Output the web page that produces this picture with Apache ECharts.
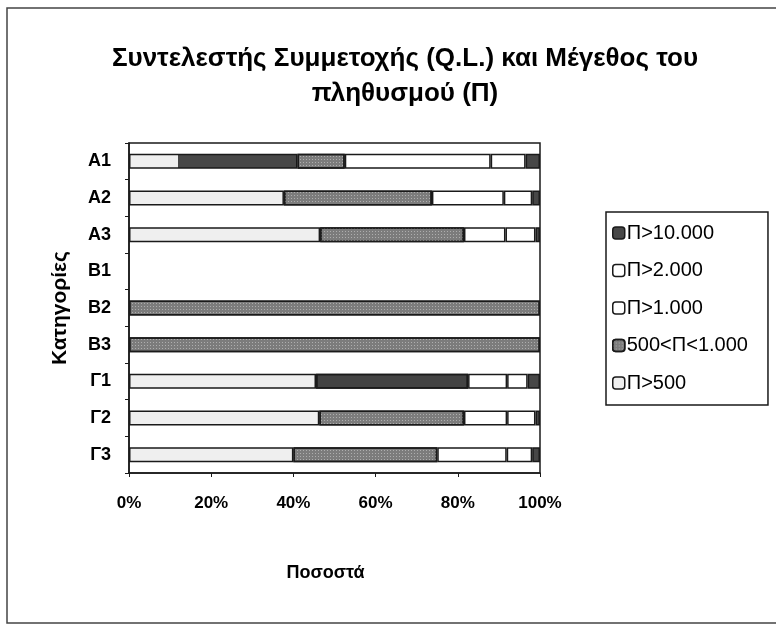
<!DOCTYPE html>
<html>
<head>
<meta charset="utf-8">
<script src="https://cdn.jsdelivr.net/npm/echarts@6/dist/echarts.min.js"></script>
<style>
  html, body { margin: 0; padding: 0; background: #fff; }
  #chart { width: 776px; height: 626px; }
</style>
</head>
<body>
<div id="chart"></div>
<script>
const categories = ['Α1', 'Α2', 'Α3', 'Β1', 'Β2', 'Β3', 'Γ1', 'Γ2', 'Γ3'];
const xTicks = [0, 20, 40, 60, 80, 100];

// percentages per category, left to right in the stack
const p500 = [41, 37.7, 46.5, null, null, null, 45.5, 46.3, 40];
const p500to1000 = [11.5, 36, 35, null, 100, 100, 37, 35.2, 35];
const p1000 = [35.5, 17.5, 10.1, null, null, null, 9.5, 10.5, 16.9];
const p2000 = [8.5, 6.9, 7.3, null, null, null, 5, 6.9, 6.2];
const p10000 = [3.5, 1.9, 1.1, null, null, null, 3, 1.1, 1.9];

const legendOrder = ['Π>10.000', 'Π>2.000', 'Π>1.000', '500<Π<1.000', 'Π>500'];

const font = 'Liberation Sans, Arial, sans-serif';
const border = '#1a1a1a';

const chart = echarts.init(document.getElementById('chart'));

function bar(name, data, color, extra) {
  return Object.assign({
    name: name,
    type: 'bar',
    stack: 'total',
    barWidth: 15,
    data: data,
    itemStyle: { color: color, borderColor: border, borderWidth: 1.5 }
  }, extra || {});
}

// A1 has a dark block inside the first segment, Γ1 a dark middle one
const p500Data = p500.map((v, i) => i === 0 ? {
  value: v,
  itemStyle: {
    color: new echarts.graphic.LinearGradient(0, 0, 1, 0, [
      { offset: 0, color: '#efefef' },
      { offset: 0.29, color: '#efefef' },
      { offset: 0.29, color: '#474747' },
      { offset: 1, color: '#474747' }
    ])
  }
} : v);
const p500to1000Data = p500to1000.map((v, i) => i === 6 ? {
  value: v, itemStyle: { color: '#434343', decal: { symbol: 'none' } }
} : v);

const dots = {
  symbol: 'rect',
  symbolSize: 1,
  color: 'rgba(215,215,215,0.55)',
  dashArrayX: [1, 2],
  dashArrayY: [1, 2]
};

const option = {
  animation: false,
  backgroundColor: '#fff',
  textStyle: { fontFamily: font, color: '#000' },
  title: {
    text: 'Συντελεστής Συμμετοχής (Q.L.) και Μέγεθος του\nπληθυσμού (Π)',
    left: 400,
    top: 36,
    textAlign: 'center',
    textStyle: { fontFamily: font, fontSize: 26, fontWeight: 'bold', lineHeight: 35, color: '#000' }
  },
  legend: {
    orient: 'vertical',
    left: 606,
    top: 212,
    padding: [11, 20, 12, 6],
    itemGap: 17.5,
    itemWidth: 12,
    itemHeight: 12,
    borderColor: '#1a1a1a',
    borderWidth: 1.5,
    data: legendOrder,
    textStyle: { fontFamily: font, fontSize: 20, color: '#000', padding: [0, 0, 0, -3] },
    itemStyle: { borderColor: '#1a1a1a', borderWidth: 1.5 }
  },
  grid: {
    left: 129,
    right: 236,
    top: 143,
    bottom: 153,
    show: true,
    borderColor: '#1a1a1a',
    borderWidth: 1.5
  },
  xAxis: {
    type: 'value',
    min: 0,
    max: 100,
    interval: 20,
    name: 'Ποσοστά',
    nameLocation: 'middle',
    nameGap: 91,
    nameTextStyle: { fontFamily: font, fontSize: 18, fontWeight: 'bold', color: '#000', padding: [0, 18, 0, 0] },
    axisLine: { show: true, lineStyle: { color: '#1a1a1a', width: 1.5 } },
    axisTick: { show: true, length: 4, lineStyle: { color: '#1a1a1a' } },
    splitLine: { show: false },
    axisLabel: {
      margin: 22,
      fontSize: 17,
      fontWeight: 'bold',
      color: '#000',
      formatter: v => xTicks.indexOf(v) >= 0 ? v + '%' : ''
    }
  },
  yAxis: {
    type: 'category',
    inverse: true,
    data: categories,
    name: 'Κατηγορίες',
    nameLocation: 'middle',
    nameGap: 58,
    nameRotate: 90,
    nameTextStyle: { fontFamily: font, fontSize: 21, fontWeight: 'bold', color: '#000' },
    axisLine: { show: true, lineStyle: { color: '#1a1a1a', width: 1.5 } },
    axisTick: { show: true, length: 4, lineStyle: { color: '#1a1a1a' } },
    axisLabel: { margin: 18, fontSize: 18, fontWeight: 'bold', color: '#000' }
  },
  graphic: [{
    type: 'rect',
    shape: { x: 7, y: 8, width: 800, height: 615 },
    style: { fill: 'none', stroke: '#444', lineWidth: 1.5 },
    silent: true
  }],
  series: [
    bar('Π>500', p500Data, '#efefef'),
    bar('500<Π<1.000', p500to1000Data, '#7c7c7c', {
      itemStyle: { color: '#7c7c7c', borderColor: border, borderWidth: 1.5, decal: dots }
    }),
    bar('Π>1.000', p1000, '#ffffff'),
    bar('Π>2.000', p2000, '#ffffff'),
    bar('Π>10.000', p10000, '#474747')
  ]
};

chart.setOption(option);
</script>
</body>
</html>
